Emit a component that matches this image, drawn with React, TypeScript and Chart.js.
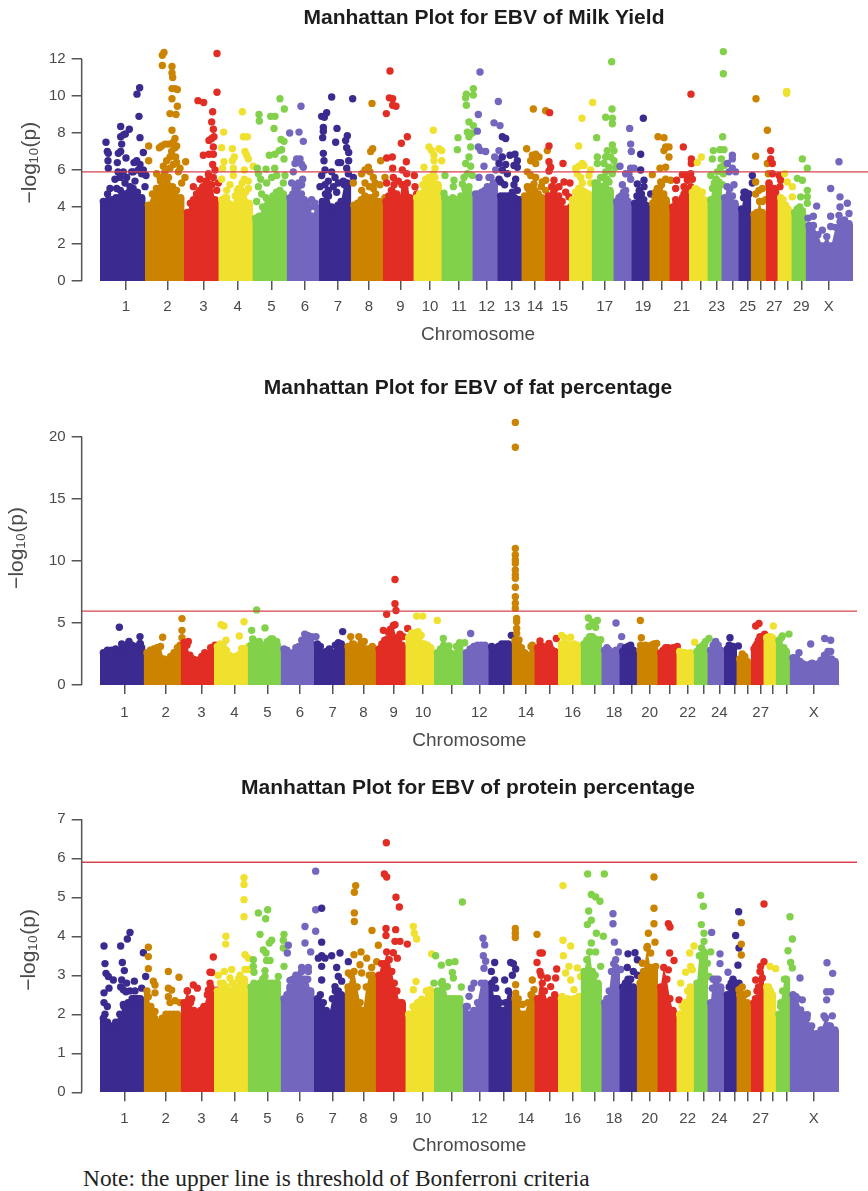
import React, { useEffect, useRef } from "react";
import { Chart, registerables } from "chart.js";

Chart.register(...registerables);

const palette = ["#3b2a8f", "#cc8400", "#e22d24", "#f0e12e", "#82d14a", "#7366be"];
const lineColor = "#d8434e";
const axisColor = "#555555";
const textColor = "#4a4a4a";
const sans = "'Liberation Sans', Arial, sans-serif";
const SECOND = 1302; // positions of chromosomes 11 to X are listed from this origin

// ---------- genome layout ----------
const milkEnds = [300,435,552,655,757,860,957,1052,1148,1240,1324,1417,1492,1564,1635,1707,1775,1840,1894,1948,2008,2067,2122,2164,2215,2252,2297,2332,2374,2417,2557];
const pctEnds = [300,431,542,642,743,842,942,1034,1127,1216,1302,1389,1465,1535,1603,1674,1742,1804,1858,1910,1972,2029,2081,2122,2172,2209,2252,2290,2327,2369,2515];
const milkTicks = [378,502,610,713,814,915,1014,1107,1201,1290,1377,1460,1536,1605,1679,1749,1814,1874,1929,1986,2045,2102,2150,2198,2243,2281,2323,2362,2404,2486];
const pctTicks = [373,497,604,703,802,900,998,1090,1181,1269,1356,1438,1510,1578,1650,1718,1783,1842,1894,1949,2008,2063,2112,2158,2204,2243,2282,2318,2360,2441];
const milkLabels = ["1","2","3","4","5","6","7","8","9","10","11","12","13","14","15","","17","","19","","21","","23","","25","","27","","29","X"];
const pctLabels = ["1","2","3","4","5","6","7","8","9","10","","12","","14","","16","","18","","20","","22","","24","","","27","","","X"];
const milkYTicks = [0,2,4,6,8,10,12];
const fatYTicks = [0,5,10,15,20];
const proteinYTicks = [0,1,2,3,4,5,6,7];

// ---------- height of the solid body of each chromosome ----------
const milkBody: number[][] = [
  [4.3,4.7,4.4,4.5,4.9,4.7,4.8,5.0,4.8,4.5],
  [4.1,4.7,5.0,5.4,5.8,5.6,5.1,4.9,4.5],
  [3.7,4.2,4.4,4.7,4.9,5.1,5.4,5.7,5.2,4.4],
  [4.4,4.5,4.2,4.1,4.6,5.0,5.3,4.8,4.2],
  [3.4,3.5,4.0,4.5,4.4,4.6,4.8,4.9,4.7],
  [4.5,4.7,5.0,5.3,4.7,4.4,4.2,4.0,3.5,4.0],
  [4.3,4.7,4.6,4.0,3.9,4.1,4.3,5.2,5.3],
  [4.1,4.2,4.4,4.6,4.5,4.5,4.7,4.3],
  [4.3,4.6,4.9,5.2,4.7,4.4,5.2,5.0,5.3,4.5],
  [4.5,4.7,5.2,5.5,5.6,5.3,5.6,5.2],
  [4.5,4.4,4.5,4.4,4.6,5.0,4.8],
  [4.7,4.7,4.8,4.9,5.0,5.6,5.3],
  [4.6,4.6,4.6,4.5,4.5,4.4],
  [4.6,5.0,5.1,4.9,4.7,4.5],
  [4.6,5.1,5.0,4.6,4.3,3.9],
  [4.4,4.8,5.0,4.9,4.8,4.7],
  [5.3,5.0,5.1,5.6,5.5,4.9],
  [4.3,4.5,4.6,4.8,4.6,4.3],
  [4.2,4.6,4.9,4.7,4.4,4.1],
  [4.2,4.5,4.6,5.0,5.2,4.7,4.4],
  [4.0,4.2,4.3,4.5,4.9],
  [4.8,5.0,4.9,4.7,4.4],
  [4.4,5.0,5.3,5.5,5.0],
  [4.5,5.1,5.0,4.6,4.2],
  [3.9,4.5,4.8,4.5],
  [3.6,3.7,4.3,3.7],
  [5.2,5.0,4.9,5.0],
  [4.5,4.4,4.1,3.9],
  [3.7,3.9,4.0,3.8],
  [3.0,3.0,2.5,1.9,2.4,1.9,2.9,3.2,3.3,3.1],
];

// ---------- isolated markers above the body: position, -log10(p) pairs ----------
const milkPeaks: number[][] = [
  [318,7.5,322,7.0,325,6.9,324,6.5,325,6.1,352,6.4,355,6.9,362,7.0,365,7.4,362,7.8,370,7.9,376,7.95,362,8.35,388,8.2,420,7.75,417,8.9,411,10.1,419,10.45,378,6.65,430,6.95,354,5.9,370,5.9,395,5.9,402,6.4,410,6.5,420,6.3,430,6.0,438,5.7,345,5.5,360,5.6,380,5.6,400,5.9,415,6.0,425,5.8,405,5.4,375,5.3,390,5.1,350,5.0,435,5.1,330,5.0],
  [446,7.3,446,6.5,492,12.35,487,12.2,487,11.65,516,11.6,516,11.25,518,11.0,516,10.4,525,10.4,532,10.35,516,9.85,510,9.05,528,9.0,532,9.45,516,8.15,525,7.7,520,7.5,515,7.4,505,7.4,495,7.4,485,7.3,478,7.2,525,7.2,515,7.0,530,7.3,510,6.7,500,6.5,520,6.3,530,6.4,490,6.2,540,6.1,557,6.45,535,5.9,470,5.8,480,5.6,555,5.6,545,5.3,495,5.9,510,6.1,527,6.7],
  [651,12.3,651,10.2,594,9.75,611,9.65,638,9.15,635,8.6,640,8.2,642,7.8,635,7.7,627,7.6,640,7.25,610,6.8,627,6.85,640,6.85,638,6.3,645,6.0,625,5.8,640,5.6,600,5.5,580,5.1,610,5.0,655,5.3,650,4.9],
  [727,9.15,671,8.05,730,7.8,742,7.8,665,7.2,697,7.15,735,7.0,740,6.8,745,6.6,703,6.7,672,6.45,697,6.5,668,6.1,700,6.1,733,6.0,760,6.2,700,5.7,665,5.5,733,5.5,745,5.4,712,4.9,680,4.9,690,5.2,745,5.0,680,4.5],
  [840,9.85,853,9.3,777,9.0,812,8.9,825,8.9,778,8.65,822,8.25,843,7.65,852,7.55,845,7.1,838,7.05,825,6.85,808,6.8,852,6.6,772,6.1,798,6.05,824,6.1,775,5.8,782,5.5,815,5.6,830,5.7,855,5.7,850,5.3,800,5.3,775,5.1,785,4.7,770,4.3],
  [903,9.45,869,8.0,897,8.05,910,7.55,890,6.6,900,6.6,885,6.35,905,6.3,910,6.15,880,5.9,908,5.5,905,5.2,875,5.3,895,5.1,885,5.0,935,4.4,945,4.2],
  [995,9.95,1058,9.85,980,9.1,965,8.9,973,8.85,970,8.3,970,8.1,1011,8.25,968,7.75,1007,7.5,1042,7.85,1037,7.6,1040,7.2,1046,6.95,970,6.9,972,6.5,1015,6.4,1022,6.4,1046,6.5,1040,6.1,975,6.0,995,5.9,965,5.7,1005,5.6,1045,5.8,1060,5.6,985,5.4,1015,5.3,1030,5.4,975,5.2,1000,5.1,1040,5.2,960,5.1,1010,4.8,985,4.9],
  [1116,9.6,1118,7.15,1112,7.0,1142,6.5,1105,6.15,1095,6.0,1085,5.8,1110,5.9,1060,5.3,1155,5.6,1120,5.6,1095,5.3,1125,5.3,1140,5.2,1108,5.1,1085,4.9,1120,5.0,1155,4.5],
  [1170,11.35,1168,9.9,1178,9.85,1178,9.5,1188,9.45,1159,9.05,1222,7.8,1204,7.45,1160,6.65,1177,6.7,1219,6.45,1178,6.1,1207,6.0,1220,5.8,1243,5.7,1180,5.6,1195,5.4,1160,5.3,1215,5.2,1245,5.1,1250,4.7],
  [1300,8.15,1287,7.25,1295,7.05,1317,7.15,1325,7.05,1302,6.8,1302,6.5,1325,6.5,1272,6.15,1305,6.1,1300,5.8],
  [118,10.4,97,10.1,95,9.9,97,9.5,118,10.05,105,8.6,118,8.4,100,8.05,72,7.75,105,7.8,115,8.0,70,7.1,110,7.25,105,6.7,95,6.35,110,6.2,100,5.8,33,5.7,60,5.45,90,5.6,115,5.7,58,5.1,85,5.25,105,5.1,30,4.75,95,4.9],
  [138,11.3,193,9.7,133,9.0,180,8.55,198,8.4,130,8.1,133,7.25,140,7.05,155,7.0,195,7.05,150,6.2,182,6.7,195,6.55,135,5.6,165,5.6,185,6.0,160,5.1],
  [205,7.8,215,7.7,205,6.7,195,6.35,228,6.8,243,6.85,250,6.5,240,6.25,215,6.3,205,6.0,250,6.15,220,5.8,245,5.5,200,5.35,212,5.2,240,5.2,250,4.9,235,4.8,195,5.5,258,4.4],
  [298,9.3,335,9.2,278,7.15,295,6.8,305,6.85,315,6.7,290,6.5,305,6.35,300,6.6,340,7.05,280,5.9,290,5.7,305,5.6,325,5.35,335,5.45,280,5.1,300,5.25,322,5.1,335,4.9],
  [347,9.1,345,7.3,345,6.45,350,6.15,345,5.95,387,6.35,360,5.45,390,5.35,408,5.3,355,5.1,395,4.8,375,5.1,405,4.55,410,4.0],
  [476,9.65,444,8.8,434,7.3,445,6.35,435,6.2,425,6.1,450,6.25,470,6.0,430,5.8,440,5.6,465,5.7,445,5.3,470,5.3],
  [533,11.85,534,9.3,515,8.85,535,8.8,535,8.5,488,7.75,535,7.35,520,7.05,540,7.05,515,6.7,530,6.7,490,6.7,540,6.5,510,6.35,525,6.15,490,6.35,545,6.15,515,5.9,535,5.8,500,5.6,490,5.3,525,5.35],
  [587,8.25,590,7.4,592,7.0,558,6.2,590,6.1,600,6.1,575,5.8,585,5.8,590,5.5,565,5.2,575,4.9],
  [628,8.8,620,6.85,620,6.0,630,5.45,610,5.25,630,5.1,650,4.7],
  [672,7.8,690,7.75,695,7.25,705,7.25,690,7.05,705,6.7,678,6.1,695,6.15,655,5.75,680,5.35,695,5.5,710,5.45,670,5.0,665,4.8],
  [771,10.1,748,7.25,772,6.6,772,6.35,745,5.75,755,5.75,770,5.8,728,5.45,760,5.45,775,5.5,725,5.0,750,5.1,770,5.1,725,4.4,750,4.7,760,4.55,770,4.8],
  [802,6.7,790,6.4,785,4.7,805,4.8],
  [868,12.4,868,11.2,866,7.8,838,7.05,858,7.1,870,7.1,835,6.6,862,6.6,870,6.25,860,6.15,830,5.7,850,5.9,868,5.8,855,5.35,840,5.1,865,5.2],
  [895,6.8,895,6.6,880,6.35,895,6.1,905,5.9,885,5.9,900,5.2],
  [955,5.7,955,5.3,945,4.7,930,4.8],
  [966,9.85,1000,8.15,965,6.75,1000,6.35,1003,5.8,965,5.35,975,4.9,985,5.0,985,4.3,965,4.7,995,4.4],
  [1010,7.05,1010,6.6,1015,6.35,1035,5.7,1040,5.45,1038,5.1,1005,5.3,1025,4.8,1015,5.8],
  [1058,10.25,1058,10.15,1052,5.8,1060,5.35,1075,5.1,1075,4.55],
  [1105,6.6,1120,6.1,1090,5.55,1105,5.45,1120,4.9,1120,4.55,1100,4.55,1120,4.2],
  [1215,6.45,1190,5.0,1148,4.05,1138,3.5,1122,3.4,1165,2.75,1190,3.5,1190,2.95,1218,4.55,1218,4.0,1240,4.2,1245,3.65,1215,3.55],
];

const fatBody: number[][] = [
  [2.6,2.8,2.8,2.9,2.8,3.1,3.3,3.2,3.1,3.3],
  [2.6,2.8,2.9,3.0,3.1,2.1,2.0,2.3,2.6,3.0],
  [3.4,3.2,2.4,2.1,2.0,2.0,2.3,2.6,2.5,3.0],
  [3.1,3.3,3.1,2.8,2.4,2.2,2.3,2.4,2.6,2.9],
  [3.2,3.5,3.3,3.1,3.2,3.5,3.7,3.4,3.2],
  [2.9,2.8,2.5,2.6,3.0,3.1,3.6,4.1,4.0,3.8],
  [3.3,3.1,2.6,2.7,2.9,2.6,3.2,3.4,3.3],
  [3.1,3.9,3.3,3.0,3.9,3.4,3.5,2.9,2.9,3.1],
  [2.9,3.3,3.6,3.7,4.5,4.8,3.8,3.7,3.2],
  [3.8,4.2,4.2,4.3,4.0,3.3,3.2,3.0],
  [2.6,2.9,3.2,3.0,2.6,2.5,3.1,3.4],
  [2.6,2.9,3.1,3.2,3.2,3.2],
  [3.1,2.9,3.1,3.3,3.3,3.3],
  [3.6,3.4,3.0,2.6,2.4,3.1],
  [3.0,3.2,3.1,2.9,3.1,3.1,2.8,2.7],
  [3.3,3.8,3.3,3.1,3.3,3.2],
  [3.3,3.6,3.9,3.9,3.7,3.4],
  [2.8,3.0,2.8,2.4,2.6,2.8],
  [2.7,3.0,3.1,3.0,2.8],
  [2.8,3.0,3.2,3.0,3.2,3.3],
  [2.6,2.8,3.0,3.0,2.9,3.0],
  [2.7,2.6,2.6,2.5,2.6],
  [2.7,3.0,3.1,3.3],
  [2.8,3.2,3.5,3.2,2.8],
  [2.9,3.2,3.1,3.1],
  [2.1,2.5,2.3,1.9],
  [2.9,3.1,3.3,3.6,3.9],
  [3.8,3.9,3.9,3.8],
  [3.6,3.8,3.0,2.7],
  [2.2,2.2,1.9,1.7,1.6,1.7,1.6,1.7,2.0,2.4,2.7,2.1,1.9],
];

const fatPeaks: number[][] = [
  [358,4.65,420,3.9,387,3.5,365,3.3,420,3.35,425,3.0],
  [488,3.85,546,5.35,546,4.4,546,3.8,540,3.2],
  [565,3.5,555,3.35,645,3.2],
  [663,4.85,672,4.75,678,3.6,718,3.95,732,5.1,725,2.95,745,3.1],
  [770,6.05,755,4.4,795,4.6,758,3.7,778,3.5,818,3.7,830,3.5],
  [935,3.9,948,3.9],
  [1028,4.3],
  [],
  [1185,8.5,1185,6.55,1188,6.0,1160,5.7,1223,4.55,1150,4.4,1165,4.25,1185,4.85,1200,4.1,1210,3.9],
  [1250,5.55,1268,5.55,1312,5.2],
  [28,3.75,45,3.15,92,3.4],
  [110,4.15],
  [232,4.0],
  [244,21.15,244,19.15,244,11.0,244,10.47,244,10.07,244,9.8,244,9.26,244,8.86,244,8.59,244,7.87,244,7.11,244,6.58,244,6.17,248,5.37,248,5.1,248,4.56,248,4.16,255,3.62,295,3.2],
  [318,3.55,345,3.35,367,3.75,345,3.05,370,2.6],
  [383,4.0,410,3.85],
  [463,5.4,490,5.2,465,4.7,485,4.65,475,5.05,500,3.65],
  [546,5.0,563,3.9,560,3.1],
  [590,3.2],
  [619,5.2,622,3.8,620,3.2,668,3.35],
  [730,3.1],
  [782,3.45],
  [825,3.75,815,3.5],
  [],
  [888,3.8,913,3.15],
  [],
  [975,4.95,965,4.75,992,4.1,985,3.75],
  [1018,4.75],
  [1065,4.1,1045,3.95],
  [1095,2.6,1130,3.3,1172,3.75,1190,3.6,1190,2.7,1135,1.75],
];

const proteinBody: number[][] = [
  [1.9,1.8,1.7,1.8,2.0,2.2,2.3,2.4,2.4,2.4],
  [2.6,2.2,1.9,1.8,1.9,2.0,2.0,2.0,2.0],
  [2.3,2.6,2.3,2.1,2.0,2.1,2.2,2.5,2.7],
  [2.6,2.8,2.8,2.7,2.6,2.8,2.7,2.9,2.9,2.9],
  [2.7,2.8,2.7,2.8,2.9,2.8,2.8,2.8,2.8,2.8],
  [2.4,2.5,2.7,2.9,3.0,3.0,2.9,2.9,2.9,2.6],
  [2.4,2.5,2.3,2.1,2.0,2.4,2.6,2.6,2.5],
  [2.7,3.0,3.1,2.7,2.3,2.1,2.7,3.0,3.0],
  [3.0,3.3,3.3,3.6,3.4,3.1,2.8,2.6,2.3,2.3],
  [2.0,2.2,2.3,2.2,2.6,2.6],
  [2.6,2.8,2.7,2.4,2.4,2.4,2.4],
  [2.2,2.0,2.1,2.3,2.8,2.8],
  [2.8,2.4,2.4,2.3,2.1,2.3,2.6],
  [2.4,2.4,2.0,2.0,2.3,2.5],
  [2.4,3.0,2.6,2.3,2.2,2.5],
  [2.4,2.3,2.4,2.3,2.4,2.4],
  [3.1,3.4,3.6,3.1,3.0,2.8],
  [2.3,2.4,2.6,3.1,3.3,3.2],
  [2.7,2.8,2.9,2.9,2.7],
  [2.8,3.1,3.7,3.2,3.2],
  [2.7,3.2,2.9,2.4,2.1],
  [2.0,2.2,2.3,2.6,2.7],
  [2.8,3.5,3.7,3.6],
  [2.3,2.9,2.9,2.9,2.7],
  [2.5,2.7,2.8,2.9],
  [2.5,2.7,2.5,2.3],
  [2.3,2.4,2.6,2.7,3.1],
  [2.7,2.7,2.6,2.5],
  [2.0,2.3,2.6,2.9,2.9],
  [2.5,2.4,2.0,1.9,1.7,1.5,1.6,1.9,1.7,1.6],
];

const proteinPeaks: number[][] = [
  [312,3.75,362,3.75,382,3.93,390,4.1,315,3.3,367,3.33,373,3.12,318,3.05,325,2.97,340,2.88,327,2.67,312,2.55,312,2.3,322,2.2,315,2.0,365,2.88,380,2.8,403,2.85,370,2.63,390,2.6,405,2.6,362,2.7,378,2.58,425,2.67,430,3.58,437,2.97,370,2.25,400,2.4,415,2.4],
  [445,3.72,445,3.48,445,3.17,460,2.85,465,2.75,465,2.55,445,2.45,505,3.1,537,2.95,505,2.67,515,2.62,505,2.45,525,2.35,540,2.3,465,2.07,510,2.3],
  [640,3.47,630,3.08,635,3.07,630,2.8,580,2.75,592,2.67,562,2.6,625,2.62,650,2.62,575,2.4,610,2.15],
  [732,5.5,732,5.33,732,4.94,732,4.5,678,4.0,677,3.8,735,3.53,745,3.44,735,3.15,655,3.0,673,3.1,695,3.15,720,3.0,690,2.93,745,3.15],
  [803,4.68,775,4.6,797,4.45,780,4.05,815,3.9,808,3.83,790,3.65,798,3.57,760,3.4,800,3.38,810,3.38,760,3.23,762,3.08,795,3.12,795,2.97,835,2.97,852,3.23,852,4.05,850,3.9,850,3.7],
  [865,3.77,862,3.57,870,2.87,915,4.25,915,3.83,932,3.6,947,5.67,947,4.68,947,4.13,905,3.2,925,3.2,905,3.1,925,3.1,870,2.63],
  [965,4.72,965,3.85,965,3.5,955,3.44,975,3.44,965,3.23,995,3.5,1020,3.57,1010,3.2,1015,2.97,1025,2.85,965,2.88,1045,3.35,1005,2.71],
  [1067,5.3,1063,5.13,1063,4.6,1063,4.38,1116,4.15,1135,3.77,1083,3.6,1062,3.53,1100,3.44,1080,3.27,1130,3.35,1115,3.2,1045,3.06,1085,3.06],
  [1159,6.4,1153,5.6,1160,5.52,1188,5.0,1198,4.75,1158,4.2,1187,4.17,1158,4.02,1185,3.87,1200,3.87,1222,3.8,1180,3.58,1192,3.44],
  [1240,4.25,1243,4.08,1250,3.93,1295,3.55,1248,2.84,1240,2.63,1265,2.39,1290,2.63],
  [85,4.88,63,3.35,45,3.33,22,3.26,55,3.07,58,2.93,25,2.84,40,2.71,82,2.7,5,3.5,0,2.8],
  [147,3.95,152,3.78,148,3.5,155,3.36,150,3.18,120,2.8,112,2.67,105,2.46,100,2.2],
  [182,3.33,230,3.33,238,3.3,172,3.1,182,2.88,212,2.88,235,3.0,245,3.16,185,2.67],
  [244,4.2,244,4.08,244,3.97,309,4.05,245,2.76,245,2.54,295,2.88,300,2.63,295,2.46,265,2.25,245,2.25],
  [318,3.57,325,3.57,309,3.33,368,3.16,318,3.1,340,2.93,365,2.93,350,2.71,325,2.8,350,2.37],
  [387,5.3,387,3.9,410,3.75,388,3.5,405,3.23,430,3.19,395,3.06,440,2.97,410,2.88,385,2.46,435,2.46,420,2.63,400,2.37],
  [461,5.6,511,5.6,472,5.07,485,5.01,498,4.9,464,4.65,472,4.41,460,4.3,487,4.08,508,4.0,472,3.83,485,3.6,500,3.23],
  [537,4.58,537,4.32,541,3.85,553,3.6,545,3.4,560,3.15],
  [582,3.55,603,3.58,610,3.4,580,3.2,598,3.1,610,3.0],
  [660,5.52,660,4.72,660,4.32,643,4.08,663,3.85,640,3.74,650,3.57,625,3.31,665,3.23,622,2.95],
  [703,4.32,708,4.24,707,3.57,720,3.38,703,3.14,735,2.37],
  [780,3.75,767,3.57,770,3.23,755,3.08,740,2.8,775,3.14,775,2.63],
  [800,5.05,808,4.77,802,4.3,810,4.08,810,3.87,830,3.6,820,3.31,825,2.97],
  [833,4.1,858,3.55,858,3.3,882,3.08,835,2.67],
  [914,4.63,905,4.02,915,3.7,912,3.26,915,2.8],
  [922,4.35,922,3.8,922,3.52,915,2.63,940,2.54],
  [990,4.83,990,3.35,980,3.23,985,2.93,965,2.88],
  [1008,3.23,1025,3.17],
  [1068,4.5,1075,3.93,1062,3.63,1070,3.33,1075,3.19,1040,2.2],
  [1179,3.32,1196,3.05,1098,2.93,1178,2.58,1190,2.58,1178,2.37,1085,2.46,1105,2.37,1100,2.11,1170,1.96,1195,1.96,1120,1.99,1185,1.7],
];

const thresholds = [5.9, 5.95, 5.9];
const titles = [
  "Manhattan Plot for EBV of Milk Yield",
  "Manhattan Plot for EBV of fat percentage",
  "Manhattan Plot for EBV of protein percentage",
];
const axisLabel = "\u2212log\u2081\u2080(p)";

interface Panel {
  title: string; top: number; width: number; height: number; tickTop: number; chartBottom: number;
  chartRight: number; titleY: number; yTicks: number[]; yTop: number; threshold: number; lineEnd: number;
  ends: number[]; ticks: number[]; labels: string[]; body: number[][]; peaks: number[][];
  labelShift: number; labelLeft: number; chromY: number; tickLabelY: number;
}

const panels: Panel[] = [
  { title: titles[0], top: 0, width: 968, height: 360, tickTop: 59, chartBottom: 281, chartRight: 874.5, titleY: 18, yTicks: milkYTicks, yTop: 12.8, threshold: thresholds[0], lineEnd: 2623, ends: milkEnds, ticks: milkTicks, labels: milkLabels, body: milkBody, peaks: milkPeaks, labelShift: 0, labelLeft: 18, chromY: 335, tickLabelY: 307 },
  { title: titles[1], top: 370, width: 936, height: 390, tickTop: 66.7, chartBottom: 315, chartRight: 857, titleY: 18, yTicks: fatYTicks, yTop: 21.6, threshold: thresholds[1], lineEnd: 2571, ends: pctEnds, ticks: pctTicks, labels: pctLabels, body: fatBody, peaks: fatPeaks, labelShift: 1, labelLeft: 5, chromY: 371, tickLabelY: 343 },
  { title: titles[2], top: 770, width: 936, height: 390, tickTop: 49.3, chartBottom: 322.3, chartRight: 857, titleY: 18, yTicks: proteinYTicks, yTop: 7, threshold: thresholds[2], lineEnd: 2571, ends: pctEnds, ticks: pctTicks, labels: pctLabels, body: proteinBody, peaks: proteinPeaks, labelShift: 2, labelLeft: 17, chromY: 376, tickLabelY: 349 },
];

const LEFT = 81.67;
const POS_PER_PX = 3;
const INSET = 10;
const DOT = 3.7;

function buildDatasets(p: Panel): any[] {
  const sets: any[] = [];
  const yMax = p.yTicks[p.yTicks.length - 1];
  p.body.forEach((heights, i) => {
    const s = p.ends[i];
    const e = p.ends[i + 1];
    const color = palette[i % palette.length];
    const n = heights.length;
    const pts = heights.map((y, k) => ({ x: s + INSET + (k / (n - 1)) * (e - s - 2 * INSET), y }));
    const data = [{ x: s, y: heights[0] }, ...pts, { x: e + 2, y: heights[n - 1] }];
    sets.push({
      type: "line", data, fill: "origin", backgroundColor: color, borderColor: color, borderWidth: 0, tension: 0,
      clip: false,
      pointRadius: (ctx: any) => (ctx.dataIndex === 0 || ctx.dataIndex === n + 1 ? 0 : DOT),
      pointBackgroundColor: color, pointBorderWidth: 0,
    });
    const row = p.peaks[i];
    const origin = i >= 10 ? SECOND : 0;
    const peakData: { x: number; y: number }[] = [];
    for (let k = 0; k + 1 < row.length; k += 2) peakData.push({ x: row[k] + origin, y: row[k + 1] });
    sets.push({
      type: "scatter", data: peakData, clip: false, pointRadius: DOT, pointBackgroundColor: color,
      pointBorderWidth: 0, showLine: false,
    });
  });
  sets.push({
    type: "line", data: [{ x: LEFT * POS_PER_PX, y: p.threshold }, { x: p.lineEnd, y: p.threshold }],
    borderColor: lineColor, borderWidth: 1.4, pointRadius: 0, fill: false, clip: false,
  });
  // the vertical axis stops at its last tick, below the highest markers
  sets.push({
    type: "line", data: [{ x: LEFT * POS_PER_PX, y: 0 }, { x: LEFT * POS_PER_PX, y: yMax }],
    borderColor: axisColor, borderWidth: 1.5, pointRadius: 0, fill: false, clip: false,
  });
  sets.forEach((d, i) => { d.order = -i; });
  return sets;
}

function PanelChart({ p }: { p: Panel }) {
  const ref = useRef<HTMLCanvasElement | null>(null);
  useEffect(() => {
    if (!ref.current) return;
    const tickFont = { family: sans, size: 15 };
    const titleLine = 21 * 1.2;
    const chromLine = 19 * 1.2;
    const yMax = p.yTicks[p.yTicks.length - 1];
    const unit = (p.chartBottom - p.tickTop) / yMax;
    const chartTop = p.tickTop - (p.yTop - yMax) * unit;
    const chart = new Chart(ref.current, {
      type: "scatter",
      data: { datasets: buildDatasets(p) },
      options: {
        animation: false,
        responsive: false,
        events: [],
        layout: { padding: 0 },
        plugins: {
          legend: { display: false },
          tooltip: { enabled: false },
          title: {
            display: true,
            text: p.title,
            color: "#1c1c1c",
            font: { family: sans, size: 21, weight: "bold", lineHeight: 1.2 },
            padding: { top: p.titleY - titleLine / 2, bottom: chartTop - (p.titleY + titleLine / 2) },
          },
        },
        scales: {
          x: {
            type: "linear",
            min: LEFT * POS_PER_PX,
            max: p.chartRight * POS_PER_PX,
            afterBuildTicks: (s: any) => { s.ticks = p.ticks.map((value) => ({ value })); },
            afterFit: (s: any) => { s.height = p.height - p.chartBottom; },
            border: { display: false },
            grid: { drawOnChartArea: false, drawTicks: true, tickLength: 9, tickColor: axisColor, lineWidth: 1.5 },
            ticks: {
              autoSkip: false, maxRotation: 0, minRotation: 0, color: textColor, font: tickFont,
              padding: p.tickLabelY - p.chartBottom - 9 - 9,
              callback: (_v: any, i: number) => p.labels[i],
            },
            title: {
              display: true, text: "Chromosome", color: textColor,
              font: { family: sans, size: 19, lineHeight: 1.2 },
              padding: { top: 0, bottom: p.height - p.chromY - chromLine / 2 },
            },
          },
          y: {
            type: "linear",
            min: 0,
            max: p.yTop,
            afterBuildTicks: (s: any) => { s.ticks = p.yTicks.map((value) => ({ value })); },
            afterFit: (s: any) => { s.width = LEFT; },
            border: { display: false },
            grid: { drawOnChartArea: false, drawTicks: true, tickLength: 10, tickColor: axisColor, lineWidth: 1.5 },
            ticks: { color: textColor, font: tickFont, padding: 6, autoSkip: false },
            title: {
              display: true,
              text: "\u00a0".repeat(p.labelShift) + axisLabel,
              color: textColor,
              font: { family: sans, size: 21, lineHeight: 1.2 },
              padding: { top: p.labelLeft, bottom: 0 },
            },
          },
          yGap: {
            type: "linear",
            position: "right",
            display: true,
            afterFit: (s: any) => { s.width = p.width - p.chartRight; },
            border: { display: false },
            grid: { display: false },
            ticks: { display: false },
          },
        },
      } as any,
    });
    return () => chart.destroy();
  }, [p]);
  return (
    <canvas
      ref={ref}
      width={p.width}
      height={p.height}
      style={{ position: "absolute", left: 0, top: p.top, width: p.width, height: p.height }}
    />
  );
}

export default function App() {
  return (
    <div style={{ position: "absolute", left: 0, top: 0, width: 868, height: 1191, overflow: "hidden", background: "#fff" }}>
      {panels.map((p) => <PanelChart key={p.title} p={p} />)}
      <div style={{ position: "absolute", left: 83, top: 1165, fontFamily: "'Liberation Serif', serif", fontSize: 23.4, color: "#222", whiteSpace: "nowrap", lineHeight: "26px" }}>
        Note: the upper line is threshold of Bonferroni criteria
      </div>
    </div>
  );
}
